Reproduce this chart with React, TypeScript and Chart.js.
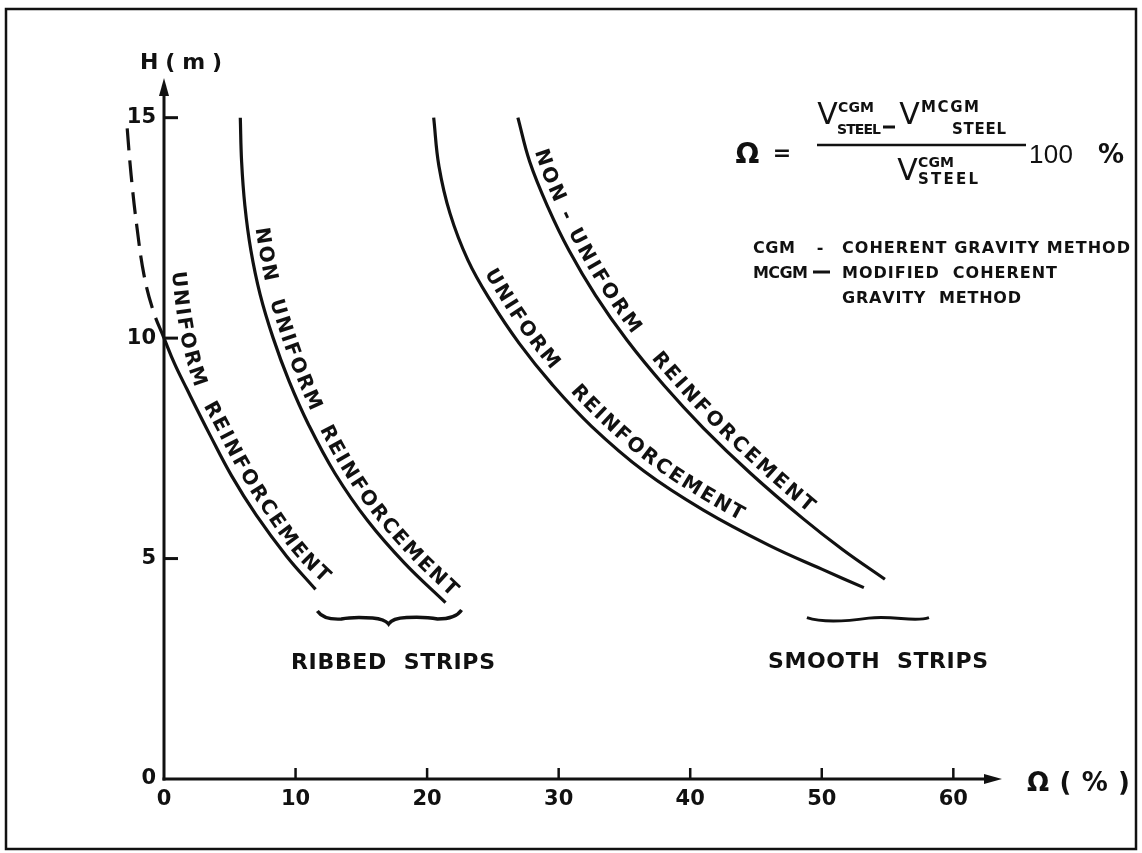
import React, { useEffect, useRef } from 'react';
import { Chart, registerables } from 'chart.js';

Chart.register(...registerables);

// ---------------- data (Ω in %, H in m) ----------------
// Ribbed strips, uniform reinforcement: dashed extrapolation above H = 10 m (listed from H = 10 upward)
const RIBBED_UNIFORM_EXT_X = [0, -0.8, -1.5, -2.05, -2.5, -2.85];
const RIBBED_UNIFORM_EXT_Y = [10.0, 10.6, 11.4, 12.5, 13.7, 14.95];
// Ribbed strips, uniform reinforcement
const RIBBED_UNIFORM_X = [0, 0.8, 1.73, 3.5, 5.13, 7.0, 9.3, 11.52];
const RIBBED_UNIFORM_Y = [10.0, 9.42, 8.85, 7.8, 6.88, 5.99, 5.06, 4.3];
// Ribbed strips, non uniform reinforcement
const RIBBED_NONUNIFORM_X = [5.8, 5.9, 6.15, 6.6, 7.3, 8.3, 9.5, 11.0, 13.0, 15.5, 18.3, 21.4];
const RIBBED_NONUNIFORM_Y = [15.0, 14.0, 13.0, 12.0, 11.0, 10.0, 9.03, 8.03, 6.93, 5.85, 4.89, 4.0];
// Smooth strips, uniform reinforcement
const SMOOTH_UNIFORM_X = [20.5, 20.9, 21.74, 23.1, 24.8, 27.0, 29.5, 32.5, 36.5, 41.0, 46.0, 50.0, 53.2];
const SMOOTH_UNIFORM_Y = [15.0, 13.9, 12.83, 11.77, 10.86, 9.88, 8.95, 8.0, 6.98, 6.1, 5.3, 4.76, 4.34];
// Smooth strips, non-uniform reinforcement
const SMOOTH_NONUNIFORM_X = [26.9, 27.8, 29.2, 30.8, 32.8, 35.2, 38.0, 41.0, 44.6, 48.6, 51.6, 54.8];
const SMOOTH_NONUNIFORM_Y = [15.0, 14.0, 12.96, 11.98, 10.97, 9.95, 8.93, 7.96, 6.93, 5.9, 5.2, 4.53];

// axis ranges / ticks
const X_MIN = 0;
const X_MAX = 63.7;
const X_STEP = 10;
const Y_MIN = 0;
const Y_MAX = 15.9;
const Y_STEP = 5;

// text
const Y_TITLE = 'H ( m )';
const X_TITLE = 'Ω ( % )';
const RIBBED_LABEL = 'RIBBED  STRIPS';
const SMOOTH_LABEL = 'SMOOTH  STRIPS';

// ---------------- style / annotation layout ----------------
const INK = '#111111';
const FONT = "'DejaVu Sans', 'Noto Sans', sans-serif";
const NUM_FONT = "'Liberation Sans', 'DejaVu Sans', sans-serif";
const TENSION = 0.4;

// guide for the "UNIFORM REINFORCEMENT" label of the ribbed curve (baseline path)
const GUIDE_RU_X = [0.61, 0.99, 1.6, 2.51, 3.8, 5.78, 8.06, 10.11, 12.09];
const GUIDE_RU_Y = [11.5, 10.52, 9.61, 8.78, 8.03, 6.92, 5.85, 5.03, 4.44];

type P = { x: number; y: number };

const zip = (xs: number[], ys: number[]): P[] => xs.map((x, i) => ({ x, y: ys[i] }));

function spline(pts: P[], t: number, steps = 24): P[] {
  const n = pts.length;
  if (n < 3) return pts.slice();
  const cps = pts.map((p, i) => {
    const prev = pts[Math.max(0, i - 1)];
    const next = pts[Math.min(n - 1, i + 1)];
    const d01 = Math.hypot(p.x - prev.x, p.y - prev.y);
    const d12 = Math.hypot(next.x - p.x, next.y - p.y);
    let s01 = d01 / (d01 + d12);
    let s12 = d12 / (d01 + d12);
    if (isNaN(s01)) s01 = 0;
    if (isNaN(s12)) s12 = 0;
    const fa = t * s01;
    const fb = t * s12;
    return {
      prev: { x: p.x - fa * (next.x - prev.x), y: p.y - fa * (next.y - prev.y) },
      next: { x: p.x + fb * (next.x - prev.x), y: p.y + fb * (next.y - prev.y) },
    };
  });
  const out: P[] = [pts[0]];
  for (let i = 0; i < n - 1; i++) {
    const p0 = pts[i], c1 = cps[i].next, c2 = cps[i + 1].prev, p3 = pts[i + 1];
    for (let k = 1; k <= steps; k++) {
      const u = k / steps, v = 1 - u;
      out.push({
        x: v * v * v * p0.x + 3 * v * v * u * c1.x + 3 * v * u * u * c2.x + u * u * u * p3.x,
        y: v * v * v * p0.y + 3 * v * v * u * c1.y + 3 * v * u * u * c2.y + u * u * u * p3.y,
      });
    }
  }
  return out;
}

function offsetPath(pts: P[], d: number): P[] {
  return pts.map((p, i) => {
    const a = pts[Math.max(0, i - 1)];
    const b = pts[Math.min(pts.length - 1, i + 1)];
    const dx = b.x - a.x, dy = b.y - a.y;
    const L = Math.hypot(dx, dy) || 1;
    return { x: p.x + (dy / L) * d, y: p.y - (dx / L) * d };
  });
}

function cumLen(pts: P[]): number[] {
  const c = [0];
  for (let i = 1; i < pts.length; i++) c.push(c[i - 1] + Math.hypot(pts[i].x - pts[i - 1].x, pts[i].y - pts[i - 1].y));
  return c;
}

function pointAt(pts: P[], cum: number[], s: number): P {
  const total = cum[cum.length - 1];
  s = Math.max(0, Math.min(total, s));
  let i = 1;
  while (i < cum.length - 1 && cum[i] < s) i++;
  const seg = cum[i] - cum[i - 1] || 1;
  const f = (s - cum[i - 1]) / seg;
  return { x: pts[i - 1].x + (pts[i].x - pts[i - 1].x) * f, y: pts[i - 1].y + (pts[i].y - pts[i - 1].y) * f };
}

function textAlong(ctx: CanvasRenderingContext2D, text: string, pts: P[], font: string) {
  ctx.font = font;
  ctx.textAlign = 'left';
  ctx.textBaseline = 'alphabetic';
  const cum = cumLen(pts);
  const L = cum[cum.length - 1];
  const chars = Array.from(text);
  const ws = chars.map((c) => ctx.measureText(c).width);
  const W = ws.reduce((a, b) => a + b, 0);
  const gap = chars.length > 1 ? (L - W) / (chars.length - 1) : 0;
  let s = 0;
  chars.forEach((c, i) => {
    const mid = s + ws[i] / 2;
    const p = pointAt(pts, cum, mid);
    const a = pointAt(pts, cum, mid - 5);
    const b = pointAt(pts, cum, mid + 5);
    const ang = Math.atan2(b.y - a.y, b.x - a.x);
    ctx.save();
    ctx.translate(p.x, p.y);
    ctx.rotate(ang);
    ctx.fillText(c, -ws[i] / 2, 0);
    ctx.restore();
    s += ws[i] + gap;
  });
}

function fitText(ctx: CanvasRenderingContext2D, text: string, x: number, y: number, width: number, font: string) {
  ctx.font = font;
  ctx.textAlign = 'left';
  ctx.textBaseline = 'alphabetic';
  const chars = Array.from(text);
  const ws = chars.map((c) => ctx.measureText(c).width);
  const W = ws.reduce((a, b) => a + b, 0);
  if (chars.length === 1) {
    ctx.fillText(text, x + (width - W) / 2, y);
    return;
  }
  const gap = (width - W) / (chars.length - 1);
  let cx = x;
  chars.forEach((c, i) => {
    ctx.fillText(c, cx, y);
    cx += ws[i] + gap;
  });
}

function line(ctx: CanvasRenderingContext2D, x1: number, y1: number, x2: number, y2: number, w: number) {
  ctx.lineWidth = w;
  ctx.beginPath();
  ctx.moveTo(x1, y1);
  ctx.lineTo(x2, y2);
  ctx.stroke();
}

const decorPlugin = {
  id: 'decor',
  beforeDraw(chart: any) {
    const { ctx, width, height } = chart;
    ctx.save();
    ctx.fillStyle = '#ffffff';
    ctx.fillRect(0, 0, width, height);
    ctx.restore();
  },
  afterDatasetsDraw(chart: any) {
    const ctx: CanvasRenderingContext2D = chart.ctx;
    const xs = chart.scales.x;
    const ys = chart.scales.y;
    const X = (v: number) => xs.getPixelForValue(v);
    const Y = (v: number) => ys.getPixelForValue(v);
    const toPx = (pts: P[]) => pts.map((p) => ({ x: X(p.x), y: Y(p.y) }));

    ctx.save();
    ctx.strokeStyle = INK;
    ctx.fillStyle = INK;
    ctx.lineCap = 'butt';

    // frame
    ctx.lineWidth = 2.5;
    ctx.strokeRect(6, 9, 1130, 840);

    // axes
    const x0 = X(0), y0 = Y(0);
    const xEnd = xs.right, yTop = ys.top;
    line(ctx, x0, y0 + 1.5, x0, yTop + 10, 3);
    line(ctx, x0 - 1.5, y0, xEnd - 10, y0, 3);
    ctx.beginPath();
    ctx.moveTo(x0, yTop);
    ctx.lineTo(x0 - 5, yTop + 18);
    ctx.lineTo(x0 + 5, yTop + 18);
    ctx.closePath();
    ctx.fill();
    ctx.beginPath();
    ctx.moveTo(xEnd, y0);
    ctx.lineTo(xEnd - 18, y0 - 5);
    ctx.lineTo(xEnd - 18, y0 + 5);
    ctx.closePath();
    ctx.fill();
    xs.ticks.forEach((t: any) => {
      if (t.value === 0) return;
      const px = X(t.value);
      line(ctx, px, y0, px, y0 - 11, 2.5);
    });
    ys.ticks.forEach((t: any) => {
      if (t.value === 0) return;
      const py = Y(t.value);
      line(ctx, x0, py, x0 + 14, py, 3);
    });

    // axis titles
    fitText(ctx, Y_TITLE, 140, 69, 82, `bold 22px ${FONT}`);
    fitText(ctx, X_TITLE, 1027, 791, 103, `bold 26px ${FONT}`);

    // curve labels
    const labelFont = `bold 20px ${FONT}`;
    const curveLabel = (xsA: number[], ysA: number[], fromY: number, toX: number, off: number, text: string) => {
      let pts = spline(toPx(zip(xsA, ysA)), TENSION);
      pts = pts.filter((p) => p.y >= Y(fromY) && p.x <= X(toX));
      textAlong(ctx, text, offsetPath(pts, off), labelFont);
    };
    textAlong(ctx, 'UNIFORM  REINFORCEMENT', spline(toPx(zip(GUIDE_RU_X, GUIDE_RU_Y)), TENSION), labelFont);
    curveLabel(RIBBED_NONUNIFORM_X, RIBBED_NONUNIFORM_Y, 12.49, 21.4, 8, 'NON  UNIFORM  REINFORCEMENT');
    curveLabel(SMOOTH_UNIFORM_X, SMOOTH_UNIFORM_Y, 11.4, 43.6, 9, 'UNIFORM   REINFORCEMENT');
    curveLabel(SMOOTH_NONUNIFORM_X, SMOOTH_NONUNIFORM_Y, 14.2, 48.6, 8, 'NON - UNIFORM   REINFORCEMENT');

    // braces
    {
      const xa = X(11.66), xb = X(22.62), xm = X(17.07), yt = Y(3.81);
      ctx.lineWidth = 3.4;
      ctx.beginPath();
      ctx.moveTo(xa, yt);
      ctx.quadraticCurveTo(xa + 6, yt + 9, xa + 24, yt + 8);
      ctx.quadraticCurveTo((xa + xm) / 2, yt + 5.5, xm - 16, yt + 7);
      ctx.quadraticCurveTo(xm - 4, yt + 8, xm, yt + 13);
      ctx.quadraticCurveTo(xm + 4, yt + 7, xm + 18, yt + 6.5);
      ctx.quadraticCurveTo((xm + xb) / 2, yt + 5.5, xb - 24, yt + 8);
      ctx.quadraticCurveTo(xb - 6, yt + 8, xb, yt - 1);
      ctx.stroke();
    }
    {
      const xa = X(48.87), xb = X(58.15), xm = X(53.57), yt = Y(3.66);
      ctx.lineWidth = 3;
      ctx.beginPath();
      ctx.moveTo(xa, yt);
      ctx.bezierCurveTo(xa + 15, yt + 5, xm - 25, yt + 4, xm, yt + 0.5);
      ctx.bezierCurveTo(xm + 25, yt - 2.5, xb - 15, yt + 5, xb, yt);
      ctx.stroke();
    }
    fitText(ctx, RIBBED_LABEL, 291, 669, 204, `bold 22px ${FONT}`);
    fitText(ctx, SMOOTH_LABEL, 768, 668, 220, `bold 22px ${FONT}`);

    // formula
    fitText(ctx, 'Ω', 737, 163, 21, `bold 28px ${FONT}`);
    fitText(ctx, '=', 775, 160, 14, `bold 22px ${FONT}`);
    line(ctx, 817, 145, 1026, 145, 2.5);
    fitText(ctx, 'V', 818, 124, 19, `30px ${FONT}`);
    fitText(ctx, 'CGM', 838, 112, 36, `bold 14px ${FONT}`);
    fitText(ctx, 'STEEL', 837, 134, 44, `bold 14px ${FONT}`);
    line(ctx, 883, 127, 895, 127, 3);
    fitText(ctx, 'V', 900, 124, 19, `30px ${FONT}`);
    fitText(ctx, 'MCGM', 921, 112, 58, `bold 15px ${FONT}`);
    fitText(ctx, 'STEEL', 952, 134, 54, `bold 15px ${FONT}`);
    fitText(ctx, 'V', 898, 180, 19, `30px ${FONT}`);
    fitText(ctx, 'CGM', 918, 167, 36, `bold 14px ${FONT}`);
    fitText(ctx, 'STEEL', 918, 184, 60, `bold 15px ${FONT}`);
    fitText(ctx, '100', 1029, 163, 44, `26px ${NUM_FONT}`);
    fitText(ctx, '%', 1095, 163, 32, `bold 26px ${FONT}`);

    // legend
    const lf = `bold 16px ${FONT}`;
    fitText(ctx, 'CGM', 753, 253, 42, lf);
    fitText(ctx, '-', 816, 253, 8, lf);
    fitText(ctx, 'COHERENT GRAVITY METHOD', 842, 253, 288, lf);
    fitText(ctx, 'MCGM', 753, 278, 55, lf);
    line(ctx, 813, 272, 830, 272, 3);
    fitText(ctx, 'MODIFIED  COHERENT', 842, 278, 215, lf);
    fitText(ctx, 'GRAVITY  METHOD', 842, 303, 179, lf);

    ctx.restore();
  },
};

export default function App() {
  const ref = useRef<HTMLCanvasElement>(null);
  useEffect(() => {
    document.body.style.margin = '0';
    const canvas = ref.current;
    if (!canvas) return;
    const lineDs = (label: string, xsA: number[], ysA: number[], dashed = false) => ({
      label,
      data: zip(xsA, ysA),
      showLine: true,
      borderColor: INK,
      backgroundColor: INK,
      borderWidth: 3.2,
      borderDash: dashed ? [22, 10] : [],
      pointRadius: 0,
      tension: TENSION,
      clip: false as any,
      fill: false,
    });
    const chart = new Chart(canvas, {
      type: 'scatter',
      data: {
        datasets: [
          lineDs('Ribbed strips – uniform (extrapolated)', RIBBED_UNIFORM_EXT_X, RIBBED_UNIFORM_EXT_Y, true),
          lineDs('Ribbed strips – uniform reinforcement', RIBBED_UNIFORM_X, RIBBED_UNIFORM_Y),
          lineDs('Ribbed strips – non uniform reinforcement', RIBBED_NONUNIFORM_X, RIBBED_NONUNIFORM_Y),
          lineDs('Smooth strips – uniform reinforcement', SMOOTH_UNIFORM_X, SMOOTH_UNIFORM_Y),
          lineDs('Smooth strips – non-uniform reinforcement', SMOOTH_NONUNIFORM_X, SMOOTH_NONUNIFORM_Y),
        ],
      },
      options: {
        animation: false,
        responsive: false,
        maintainAspectRatio: false,
        devicePixelRatio: 1,
        events: [],
        layout: { padding: { left: 104, right: 140, top: 78, bottom: 34 } },
        elements: { line: { capBezierPoints: false }, point: { radius: 0 } },
        plugins: { legend: { display: false }, tooltip: { enabled: false }, title: { display: false } },
        scales: {
          x: {
            type: 'linear',
            min: X_MIN,
            max: X_MAX,
            afterFit: (s: any) => {
              s.height = 40;
            },
            grid: { display: false, drawTicks: false },
            border: { display: false },
            ticks: {
              stepSize: X_STEP,
              includeBounds: false,
              autoSkip: false,
              maxRotation: 0,
              padding: 8,
              color: INK,
              font: { family: FONT, size: 21, weight: 'bold' },
            },
          },
          y: {
            type: 'linear',
            min: Y_MIN,
            max: Y_MAX,
            afterFit: (s: any) => {
              s.width = 60;
            },
            grid: { display: false, drawTicks: false },
            border: { display: false },
            ticks: {
              stepSize: Y_STEP,
              includeBounds: false,
              autoSkip: false,
              padding: 8,
              color: INK,
              font: { family: FONT, size: 21, weight: 'bold' },
            },
          },
        },
      } as any,
      plugins: [decorPlugin],
    });
    return () => chart.destroy();
  }, []);
  return (
    <div style={{ position: 'relative', width: 1142, height: 853 }}>
      <canvas ref={ref} width={1142} height={853} style={{ display: 'block', width: 1142, height: 853 }} />
    </div>
  );
}
